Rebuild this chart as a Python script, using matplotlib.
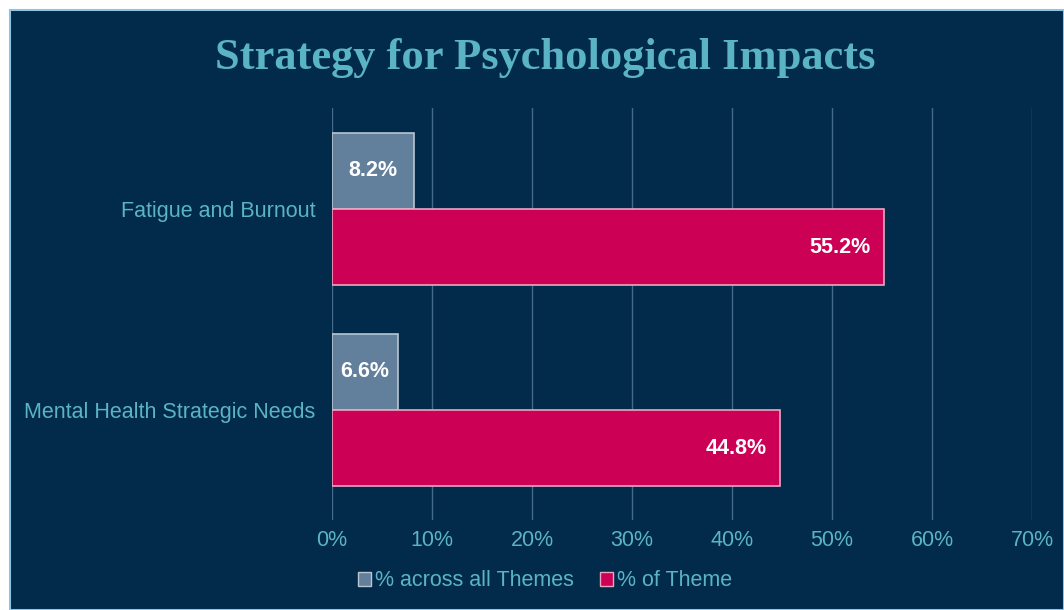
import matplotlib
matplotlib.use("Agg")
import matplotlib.pyplot as plt
from matplotlib.patches import Rectangle, Patch
import numpy as np

categories = ["Fatigue and Burnout", "Mental Health Strategic Needs"]
across_all = [8.2, 6.6]
of_theme = [55.2, 44.8]
series_names = ["% across all Themes", "% of Theme"]
xticks = [0, 10, 20, 30, 40, 50, 60, 70]

navy = "#022A4A"
teal = "#5AB4C6"
gray = "#62809B"
pink = "#CC0055"

fig = plt.figure(figsize=(10.64, 6.10), dpi=100)
fig.patch.set_facecolor("white")
fig.patches.append(Rectangle((10/1064, 0), 1 - 10/1064, 1 - 10/610, transform=fig.transFigure,
                             facecolor=navy, edgecolor="#8CC4E6", linewidth=1.5, zorder=-5))

ax = fig.add_axes([332/1064, 1 - 520/610, (1032 - 332)/1064 * 1.0, (520 - 108)/610])
ax.set_facecolor("none")
ax.set_zorder(2)

y = np.arange(len(categories))
h = 0.38
ax.barh(y - h/2, across_all, height=h, color=gray, edgecolor="#B8C6D2", linewidth=1.2, zorder=3,
        label=series_names[0])
ax.barh(y + h/2, of_theme, height=h, color=pink, edgecolor="#E9A6C2", linewidth=1.2, zorder=3,
        label=series_names[1])

for yi, v in zip(y, across_all):
    ax.text(v / 2, yi - h/2, f"{v:.1f}%", ha="center", va="center", color="white",
            fontsize=15.5, fontweight="bold", family="Liberation Sans", zorder=4)
for yi, v in zip(y, of_theme):
    ax.text(v - 1.3, yi + h/2, f"{v:.1f}%", ha="right", va="center", color="white",
            fontsize=15.5, fontweight="bold", family="Liberation Sans", zorder=4)

ax.set_xlim(0, 70)
ax.set_ylim(1.548, -0.503)
ax.set_xticks(xticks)
ax.set_xticklabels([f"{t}%" for t in xticks], color=teal, fontsize=15.5, family="Liberation Sans")
ax.set_yticks(y)
ax.set_yticklabels(categories, color=teal, fontsize=15.5, family="Liberation Sans")
ax.tick_params(axis="both", length=0)
ax.tick_params(axis="x", pad=7)
ax.tick_params(axis="y", pad=12)
ax.grid(axis="x", color="#45698A", linewidth=1.0, zorder=1)
for s in ax.spines.values():
    s.set_visible(False)

fig.text(545/1064, 1 - 58/610, "Strategy for Psychological Impacts", ha="center", va="center",
         color=teal, fontsize=32, fontweight="bold", family="Liberation Serif")

handles = [Patch(facecolor=gray, edgecolor="#B8C6D2"), Patch(facecolor=pink, edgecolor="#E9A6C2")]
leg = fig.legend(handles, series_names, loc="center", bbox_to_anchor=(545/1064, 1 - 581/610), ncol=2,
                 frameon=False, handlelength=0.6, handleheight=0.6, handletextpad=0.2,
                 columnspacing=1.2, prop={"family": "Liberation Sans", "size": 15.5})
for t in leg.get_texts():
    t.set_color(teal)

fig.savefig("out.png", dpi=100, facecolor=fig.get_facecolor())
